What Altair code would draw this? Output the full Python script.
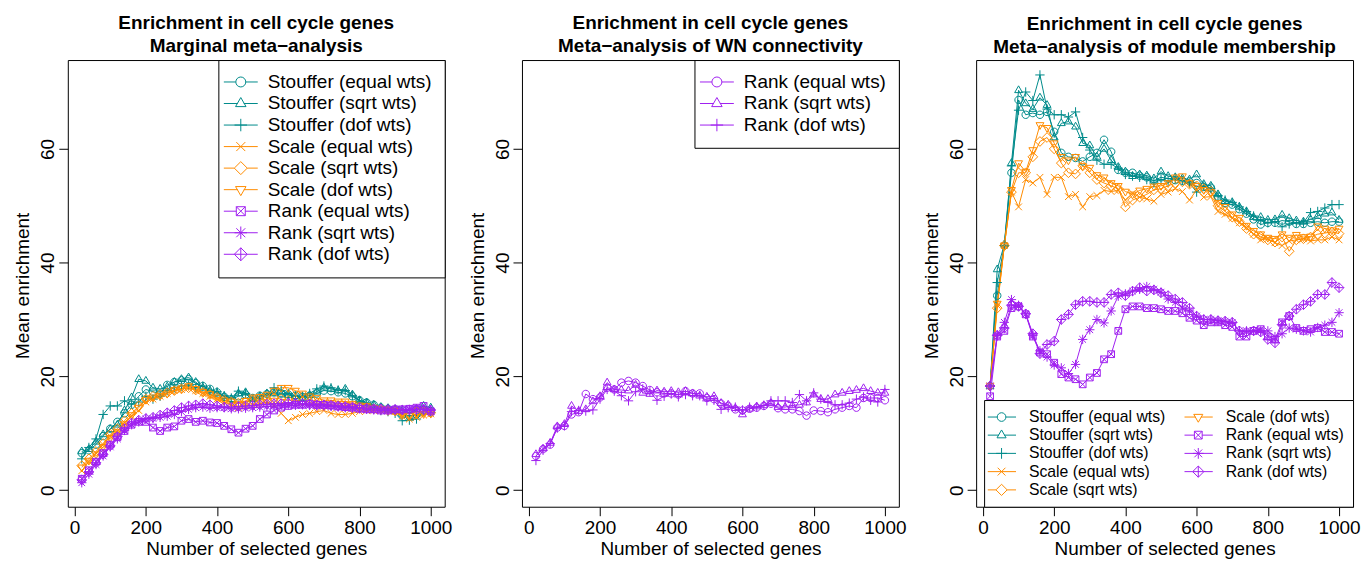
import altair as alt
import pandas as pd

GENES = [20, 40, 60, 80, 100, 120, 140, 160, 180, 200,
         220, 240, 260, 280, 300, 320, 340, 360, 380, 400,
         420, 440, 460, 480, 500, 520, 540, 560, 580, 600,
         620, 640, 660, 680, 700, 720, 740, 760, 780, 800,
         820, 840, 860, 880, 900, 920, 940, 960, 980, 1000]

X_TICKS = [0, 200, 400, 600, 800, 1000]
Y_TICKS = [0, 20, 40, 60]

TEAL = "#008B8B"
ORANGE = "#FF8C00"
PURPLE = "#A020F0"

NAMES9 = ["Stouffer (equal wts)", "Stouffer (sqrt wts)", "Stouffer (dof wts)",
          "Scale (equal wts)", "Scale (sqrt wts)", "Scale (dof wts)",
          "Rank (equal wts)", "Rank (sqrt wts)", "Rank (dof wts)"]
COLORS9 = [TEAL, TEAL, TEAL, ORANGE, ORANGE, ORANGE, PURPLE, PURPLE, PURPLE]
KINDS9 = ["circle", "tri_up", "plus", "x", "diamond", "tri_down", "square_x", "asterisk", "diamond_plus"]

NAMES3 = ["Rank (equal wts)", "Rank (sqrt wts)", "Rank (dof wts)"]
COLORS3 = [PURPLE, PURPLE, PURPLE]
KINDS3 = ["circle", "tri_up", "plus"]

TITLE1 = ["Enrichment in cell cycle genes", "Marginal meta\u2212analysis"]
TITLE2 = ["Enrichment in cell cycle genes", "Meta\u2212analysis of WN connectivity"]
TITLE3 = ["Enrichment in cell cycle genes", "Meta\u2212analysis of module membership"]

# ---------------- Panel 1: marginal meta-analysis ----------------
P1_STOUFFER_EQUAL = [6.5, 7.0, 8.0, 9.5, 10.8, 12.0, 13.5, 15.0, 16.5, 17.7,
                     17.3, 17.0, 18.5, 19.0, 19.3, 19.5, 18.8, 18.3, 17.8, 17.2,
                     16.4, 16.0, 16.5, 16.8, 16.2, 16.6, 16.9, 17.2, 17.0, 16.8,
                     16.6, 16.4, 16.6, 17.0, 17.5, 17.4, 17.2, 17.0, 16.5, 15.8,
                     15.4, 15.0, 14.5, 14.3, 14.0, 13.3, 13.0, 13.3, 14.0, 13.9]
P1_STOUFFER_SQRT = [6.8, 7.2, 8.5, 9.8, 10.7, 11.5, 14.0, 16.3, 19.5, 19.2,
                    18.0, 17.8, 18.2, 19.0, 19.5, 19.8, 19.0, 18.0, 17.5, 17.0,
                    16.5, 16.0, 17.0, 17.2, 16.0, 16.5, 17.0, 17.0, 16.8, 16.7,
                    16.5, 16.2, 16.7, 17.3, 18.0, 17.8, 17.5, 17.8, 16.8, 15.8,
                    15.4, 15.0, 14.6, 14.4, 14.2, 14.0, 13.5, 14.2, 14.8, 14.5]
P1_STOUFFER_DOF = [5.5, 7.5, 9.0, 13.3, 14.8, 14.8, 15.7, 15.1, 15.5, 16.5,
                   16.0, 16.5, 17.5, 18.0, 18.3, 18.5, 18.0, 18.3, 17.5, 17.3,
                   16.6, 16.2, 17.4, 17.0, 15.8, 16.4, 16.8, 18.0, 17.5, 17.0,
                   16.5, 16.5, 17.0, 17.8, 18.3, 18.0, 17.6, 17.5, 16.6, 15.6,
                   15.2, 14.8, 14.0, 13.8, 13.5, 12.2, 12.3, 12.5, 13.8, 13.7]
P1_SCALE_EQUAL = [3.4, 5.0, 6.5, 8.0, 9.5, 10.4, 11.9, 13.0, 14.0, 15.5,
                  16.0, 16.5, 17.0, 17.5, 17.7, 18.0, 17.5, 17.0, 16.5, 16.0,
                  15.5, 15.0, 14.5, 14.8, 15.0, 15.2, 15.5, 15.0, 13.5, 12.2,
                  12.8, 13.3, 13.5, 13.8, 14.0, 13.5, 13.3, 13.3, 13.5, 13.8,
                  14.0, 14.0, 14.2, 14.0, 13.8, 13.0, 12.5, 12.8, 13.2, 13.4]
P1_SCALE_SQRT = [4.3, 5.5, 6.8, 8.2, 9.8, 10.8, 12.2, 13.5, 14.8, 16.0,
                 16.5, 16.8, 17.1, 17.5, 17.8, 18.0, 17.6, 17.2, 16.8, 16.3,
                 15.8, 15.5, 15.3, 15.5, 15.8, 15.8, 16.0, 16.2, 16.0, 15.8,
                 15.8, 15.6, 15.5, 15.3, 15.0, 15.0, 14.9, 14.9, 14.8, 14.6,
                 14.5, 14.3, 14.2, 14.0, 13.9, 13.6, 13.5, 13.8, 13.8, 13.6]
P1_SCALE_DOF = [4.0, 5.2, 6.3, 7.6, 9.2, 10.2, 11.6, 13.2, 14.5, 15.9,
                16.3, 16.6, 17.0, 17.6, 17.9, 18.3, 17.8, 17.3, 16.9, 16.3,
                15.8, 15.6, 15.2, 15.7, 16.3, 16.4, 16.8, 17.5, 18.0, 18.0,
                17.5, 17.0, 16.5, 16.2, 15.8, 15.8, 15.6, 15.6, 15.2, 14.9,
                14.8, 14.5, 14.3, 14.1, 14.0, 13.2, 13.0, 13.3, 13.4, 13.5]
P1_RANK_EQUAL = [2.0, 3.5, 5.0, 6.5, 8.0, 9.3, 10.4, 11.5, 12.0, 12.0,
                 11.0, 10.4, 11.0, 11.2, 12.2, 12.5, 12.0, 12.2, 11.9, 11.8,
                 11.3, 10.7, 10.1, 10.8, 11.3, 12.5, 13.3, 14.0, 14.5, 14.8,
                 15.0, 15.0, 15.2, 15.0, 15.0, 14.9, 14.7, 14.6, 14.5, 14.3,
                 14.2, 14.2, 14.0, 14.0, 14.2, 14.2, 14.3, 14.5, 14.8, 13.8]
P1_RANK_SQRT = [1.3, 2.8, 4.5, 6.0, 7.6, 9.0, 10.5, 11.5, 12.0, 12.5,
                12.6, 12.8, 13.0, 13.3, 13.8, 14.2, 14.5, 14.6, 14.4, 14.5,
                14.5, 14.3, 14.3, 14.4, 14.5, 14.6, 14.7, 14.8, 14.9, 15.0,
                14.9, 15.0, 14.9, 14.8, 14.8, 14.7, 14.6, 14.5, 14.4, 14.3,
                14.2, 14.1, 14.0, 14.0, 14.1, 14.1, 14.2, 14.2, 14.1, 14.0]
P1_RANK_DOF = [1.8, 3.2, 4.8, 6.3, 7.8, 9.4, 10.8, 11.8, 12.3, 12.6,
               12.8, 13.2, 13.6, 14.0, 14.5, 14.8, 15.0, 15.2, 15.0, 14.8,
               14.6, 14.6, 14.7, 14.8, 14.9, 15.0, 15.1, 15.2, 15.2, 15.3,
               15.3, 15.2, 15.1, 15.0, 15.0, 14.9, 14.8, 14.7, 14.6, 14.5,
               14.4, 14.3, 14.3, 14.2, 14.2, 14.1, 14.1, 14.2, 14.2, 14.1]

# ---------------- Panel 2: WN connectivity ----------------
P2_RANK_EQUAL = [6.0, 7.2, 8.0, 11.0, 11.3, 13.3, 13.7, 16.9, 16.0, 16.3,
                 18.0, 17.7, 18.9, 19.2, 18.9, 18.3, 17.6, 17.2, 17.0, 17.0,
                 16.8, 17.4, 17.0, 17.0, 16.2, 16.0, 15.2, 14.8, 14.2, 14.0,
                 14.3, 14.5, 14.8, 15.2, 14.4, 14.2, 14.2, 13.9, 13.1, 14.0,
                 13.9, 13.7, 14.2, 14.5, 14.8, 14.5, 16.2, 16.2, 16.2, 15.8]
P2_RANK_SQRT = [6.3, 7.3, 8.3, 11.2, 11.6, 14.8, 13.9, 14.2, 15.6, 16.5,
                18.9, 17.7, 17.6, 17.5, 18.5, 17.1, 16.9, 17.5, 17.3, 17.4,
                17.2, 17.4, 17.0, 16.6, 16.4, 16.5, 15.3, 15.0, 14.4, 13.3,
                14.3, 14.7, 14.9, 15.3, 14.6, 14.6, 14.9, 15.0, 15.4, 16.8,
                16.0, 16.0, 16.8, 17.1, 17.4, 17.6, 17.9, 17.4, 17.1, 17.1]
P2_RANK_DOF = [5.2, 7.0, 8.2, 10.9, 11.3, 13.8, 14.0, 13.9, 14.1, 16.0,
               17.7, 17.4, 16.6, 15.7, 17.3, 17.8, 17.3, 15.8, 16.5, 16.9,
               16.4, 16.8, 16.6, 16.6, 15.7, 15.8, 14.2, 14.5, 14.6, 14.1,
               14.6, 14.6, 14.9, 15.7, 15.7, 15.7, 15.4, 16.8, 15.7, 17.1,
               16.0, 15.4, 15.0, 15.0, 15.3, 16.0, 16.4, 15.8, 15.5, 17.7]

# ---------------- Panel 3: module membership ----------------
P3_STOUFFER_EQUAL = [18.3, 34.2, 43.0, 55.8, 68.6, 66.0, 66.3, 66.0, 66.5, 63.0,
                     59.3, 58.6, 58.4, 57.8, 58.6, 59.3, 61.6, 59.5, 56.3, 55.8,
                     55.8, 55.3, 55.0, 54.4, 55.0, 54.8, 54.5, 54.4, 54.3, 54.0,
                     53.3, 53.2, 51.6, 50.5, 50.2, 49.4, 48.6, 47.6, 46.7, 47.0,
                     47.0, 47.4, 47.2, 46.8, 46.8, 47.0, 47.2, 47.0, 47.2, 47.2]
P3_STOUFFER_SQRT = [18.3, 38.8, 43.2, 57.5, 70.3, 68.0, 67.0, 69.0, 67.7, 62.0,
                    64.5, 64.8, 63.9, 61.0, 60.6, 58.6, 60.0, 58.0, 56.8, 56.0,
                    55.2, 55.5, 55.3, 54.8, 56.0, 55.2, 55.0, 54.8, 54.6, 55.5,
                    53.8, 53.5, 52.0, 50.8, 50.6, 49.8, 49.0, 48.0, 48.0, 47.5,
                    47.6, 48.4, 47.8, 47.4, 47.2, 47.6, 48.2, 48.6, 48.8, 47.5]
P3_STOUFFER_DOF = [18.3, 36.5, 43.0, 57.0, 66.8, 70.0, 68.5, 73.0, 67.0, 66.0,
                   66.0, 65.6, 66.5, 62.0, 59.8, 58.0, 57.3, 57.3, 56.6, 55.5,
                   55.2, 55.0, 54.6, 54.0, 54.6, 54.4, 54.8, 54.4, 54.0, 52.4,
                   53.5, 53.0, 51.8, 51.0, 50.6, 49.8, 49.0, 48.2, 47.4, 47.0,
                   47.2, 46.3, 46.8, 47.0, 47.0, 48.8, 49.0, 49.6, 50.2, 50.2]
P3_SCALE_EQUAL = [18.3, 32.5, 43.0, 52.4, 49.8, 54.6, 54.0, 55.0, 52.0, 55.0,
                  55.0, 51.6, 52.0, 49.8, 51.6, 51.8, 52.7, 52.5, 52.7, 51.0,
                  52.2, 51.5, 51.2, 50.8, 52.0, 52.4, 53.0, 52.5, 51.0, 52.8,
                  51.5, 51.6, 49.0, 48.5, 47.8, 47.0, 46.2, 45.0, 44.0, 44.2,
                  43.5, 43.0, 43.8, 44.0, 44.2, 43.8, 44.0, 44.0, 44.5, 44.0]
P3_SCALE_SQRT = [18.3, 32.0, 43.0, 52.4, 55.8, 55.8, 58.6, 61.3, 62.0, 60.0,
                 57.5, 55.8, 55.6, 57.0, 55.8, 54.6, 54.0, 53.5, 53.0, 49.8,
                 51.0, 51.5, 52.0, 52.8, 53.0, 53.5, 54.0, 54.2, 53.8, 53.5,
                 53.0, 52.5, 50.0, 49.0, 48.0, 47.2, 46.0, 45.0, 44.6, 44.0,
                 43.6, 44.5, 42.0, 44.0, 44.2, 44.5, 45.0, 45.2, 45.4, 45.1]
P3_SCALE_DOF = [18.3, 32.8, 43.0, 52.8, 57.5, 56.0, 59.8, 64.2, 63.7, 61.0,
                58.6, 58.0, 58.6, 57.0, 56.7, 55.4, 55.0, 54.0, 53.5, 52.5,
                52.0, 52.7, 53.0, 53.4, 53.5, 54.0, 55.0, 55.2, 54.0, 53.5,
                52.8, 52.4, 50.5, 49.8, 48.5, 47.9, 46.5, 45.6, 45.0, 44.4,
                44.2, 45.0, 44.4, 44.9, 44.5, 44.6, 46.4, 46.0, 45.7, 46.0]
P3_RANK_EQUAL = [16.5, 27.0, 28.0, 32.0, 32.3, 30.9, 27.0, 24.2, 23.9, 22.4,
                 20.4, 19.8, 19.5, 18.6, 19.8, 20.6, 23.0, 23.9, 28.0, 31.8,
                 32.3, 32.3, 32.0, 32.0, 31.8, 31.5, 31.5, 31.1, 30.3, 29.8,
                 29.0, 29.5, 29.5, 29.0, 28.7, 27.0, 27.0, 28.0, 28.3, 27.0,
                 26.5, 29.5, 30.6, 28.5, 28.0, 28.3, 28.5, 27.8, 27.8, 27.5]
P3_RANK_SQRT = [18.3, 27.3, 29.5, 33.5, 32.5, 31.0, 27.2, 24.5, 23.4, 22.0,
                21.5, 20.5, 22.1, 26.5, 28.2, 30.0, 29.4, 31.5, 34.1, 34.5,
                35.0, 35.3, 35.8, 35.3, 34.8, 33.6, 33.0, 32.0, 31.5, 30.6,
                30.0, 30.0, 29.8, 29.7, 29.5, 28.0, 28.0, 28.0, 28.0, 28.0,
                27.0, 27.5, 28.5, 28.3, 28.0, 27.8, 28.6, 29.0, 29.5, 31.2]
P3_RANK_DOF = [18.3, 27.2, 28.5, 32.5, 32.3, 31.0, 27.5, 24.0, 25.6, 26.2,
               30.0, 30.9, 32.6, 33.2, 33.2, 33.0, 33.0, 34.4, 34.7, 34.2,
               35.0, 35.6, 35.0, 35.2, 34.7, 34.2, 33.6, 33.0, 32.0, 30.6,
               30.0, 30.0, 29.8, 29.7, 29.5, 28.0, 27.8, 28.0, 27.8, 26.5,
               25.9, 29.1, 30.6, 31.8, 32.6, 33.2, 34.4, 34.4, 36.5, 35.6]

P1_SERIES = [P1_STOUFFER_EQUAL, P1_STOUFFER_SQRT, P1_STOUFFER_DOF,
             P1_SCALE_EQUAL, P1_SCALE_SQRT, P1_SCALE_DOF,
             P1_RANK_EQUAL, P1_RANK_SQRT, P1_RANK_DOF]
P2_SERIES = [P2_RANK_EQUAL, P2_RANK_SQRT, P2_RANK_DOF]
P3_SERIES = [P3_STOUFFER_EQUAL, P3_STOUFFER_SQRT, P3_STOUFFER_DOF,
             P3_SCALE_EQUAL, P3_SCALE_SQRT, P3_SCALE_DOF,
             P3_RANK_EQUAL, P3_RANK_SQRT, P3_RANK_DOF]

FONT = "Liberation Sans"
FS = 19
X_DOMAIN = [-19.2, 1039.2]
Y_DOMAIN = [-2.92, 75.62]
W, H = 378, 448


def n(v):
    return f"{round(v, 3):g}"


def shape_path(kind, cx=0.0):
    """Unit-box SVG path for an R-style plotting symbol centred at (cx, 0)."""
    if kind == "circle":
        return (f"M{n(cx + 1)},0A1,1,0,1,1,{n(cx - 1)},0"
                f"A1,1,0,1,1,{n(cx + 1)},0Z")
    if kind == "tri_up":
        return f"M{n(cx)},-1.2L{n(cx + 1.05)},0.62L{n(cx - 1.05)},0.62Z"
    if kind == "tri_down":
        return f"M{n(cx)},1.2L{n(cx + 1.05)},-0.62L{n(cx - 1.05)},-0.62Z"
    if kind == "plus":
        return f"M{n(cx - 1.25)},0H{n(cx + 1.25)}M{n(cx)},-1.25V1.25"
    if kind == "x":
        return (f"M{n(cx - 0.9)},-0.9L{n(cx + 0.9)},0.9"
                f"M{n(cx - 0.9)},0.9L{n(cx + 0.9)},-0.9")
    if kind == "diamond":
        return f"M{n(cx)},-1.3L{n(cx + 1.3)},0L{n(cx)},1.3L{n(cx - 1.3)},0Z"
    if kind == "square_x":
        return (f"M{n(cx - 0.9)},-0.9H{n(cx + 0.9)}V0.9H{n(cx - 0.9)}Z"
                + shape_path("x", cx))
    if kind == "asterisk":
        return shape_path("plus", cx) + shape_path("x", cx)
    if kind == "diamond_plus":
        return (shape_path("diamond", cx)
                + f"M{n(cx)},-1.3V1.3M{n(cx - 1.3)},0H{n(cx + 1.3)}")
    raise ValueError(kind)


GAP = {"circle": 1.0, "tri_up": 0.6, "tri_down": 0.6, "diamond": 1.3,
       "square_x": 0.9, "diamond_plus": 1.3, "plus": 0.0, "x": 0.0, "asterisk": 0.0}


def legend_path(kind, x0, x1, cx):
    g = GAP[kind]
    if g > 0:
        line = f"M{n(x0)},0H{n(cx - g)}M{n(cx + g)},0H{n(x1)}"
    else:
        line = f"M{n(x0)},0H{n(x1)}"
    return line + shape_path(kind, cx)


def make_df(names, series):
    rows = []
    for name, vals in zip(names, series):
        for g, v in zip(GENES, vals):
            rows.append({"series": name, "genes": g, "value": v})
    return pd.DataFrame(rows)


def panel(names, colors, kinds, series, title, leg):
    df = make_df(names, series)
    base = alt.Chart(df)
    x = alt.X("genes:Q",
              scale=alt.Scale(domain=X_DOMAIN, nice=False, zero=False),
              axis=alt.Axis(values=X_TICKS, format="d", title="Number of selected genes",
                            grid=False, domain=False, tickColor="black", tickSize=9,
                            labelFont=FONT, labelFontSize=FS, labelColor="black",
                            labelPadding=3, labelFlush=False,
                            titleFont=FONT, titleFontSize=FS, titleFontWeight="normal",
                            titleColor="black", titleBaseline="alphabetic", titleY=48))
    y = alt.Y("value:Q",
              scale=alt.Scale(domain=Y_DOMAIN, nice=False, zero=False),
              axis=alt.Axis(values=Y_TICKS, title="Mean enrichment",
                            grid=False, domain=False, tickColor="black", tickSize=9,
                            labelFont=FONT, labelFontSize=FS, labelColor="black",
                            labelAngle=-90, labelAlign="center", labelBaseline="alphabetic",
                            labelPadding=5, labelFlush=False,
                            titleFont=FONT, titleFontSize=FS, titleFontWeight="normal",
                            titleColor="black", titleAngle=-90, titleAlign="center",
                            titleBaseline="alphabetic", titleX=-39, titleY=226))
    color = alt.Color("series:N", scale=alt.Scale(domain=names, range=colors), legend=None)
    shape = alt.Shape("series:N",
                      scale=alt.Scale(domain=names, range=[shape_path(k) for k in kinds]),
                      legend=None)
    lines = base.mark_line(strokeWidth=1).encode(x=x, y=y, color=color)
    points = base.mark_point(filled=False, size=56, strokeWidth=1, opacity=1).encode(
        x=x, y=y, color=color, shape=shape)

    lpaths = [legend_path(k, leg["x0"], leg["x1"], leg["cx"]) for k in kinds]
    legend_kw = dict(title=None, orient=leg["orient"], offset=0, padding=leg["padding"],
                     strokeColor="black", fillColor="white",
                     labelFont=FONT, labelFontSize=leg["fs"], labelColor="black",
                     labelLimit=400, labelOffset=leg["labelOffset"],
                     rowPadding=leg["rowPadding"], symbolSize=leg["symbolSize"],
                     symbolStrokeWidth=1, symbolOpacity=1, symbolFillColor="transparent")
    if leg.get("columns"):
        legend_kw["columns"] = leg["columns"]
        legend_kw["columnPadding"] = leg["columnPadding"]
    lcolor = alt.Color("series:N", scale=alt.Scale(domain=names, range=colors),
                       legend=alt.Legend(**legend_kw))
    lshape = alt.Shape("series:N", scale=alt.Scale(domain=names, range=lpaths),
                       legend=alt.Legend(**legend_kw))
    legend_layer = base.transform_filter("false").mark_point(
        filled=False, strokeWidth=1, opacity=1).encode(x=x, y=y, color=lcolor, shape=lshape)

    return alt.layer(lines, points, legend_layer).resolve_scale(
        color="independent", shape="independent"
    ).properties(
        width=W, height=H,
        title=alt.TitleParams(text=title, font=FONT, fontSize=FS, fontWeight="bold",
                              color="black", anchor="middle", baseline="bottom",
                              lineHeight=23, offset=-15.6),
    )


LEG_BIG = dict(orient="top-right", padding=12.5, fs=FS, labelOffset=18, rowPadding=1.6,
               symbolSize=100, x0=-3.3, x1=3.5, cx=0.1)
LEG_SMALL = dict(orient="bottom-right", padding=9, fs=15.8, labelOffset=20.2, rowPadding=1.3,
                 symbolSize=75, x0=-3.05, x1=3.49, cx=0.14, columns=2, columnPadding=16.3)

c1 = panel(NAMES9, COLORS9, KINDS9, P1_SERIES, TITLE1, LEG_BIG)
c2 = panel(NAMES3, COLORS3, KINDS3, P2_SERIES, TITLE2, LEG_BIG)
c3 = panel(NAMES9, COLORS9, KINDS9, P3_SERIES, TITLE3, LEG_SMALL)

chart = alt.hconcat(c1, c2, c3, spacing=14.5).properties(
    padding={"left": 13, "top": 12.4, "right": 0, "bottom": 0},
    background="white",
).configure_view(stroke="black", strokeWidth=1).resolve_scale(
    color="independent", shape="independent")

chart.save("out.html", embed_options={"renderer": "svg", "actions": False})
